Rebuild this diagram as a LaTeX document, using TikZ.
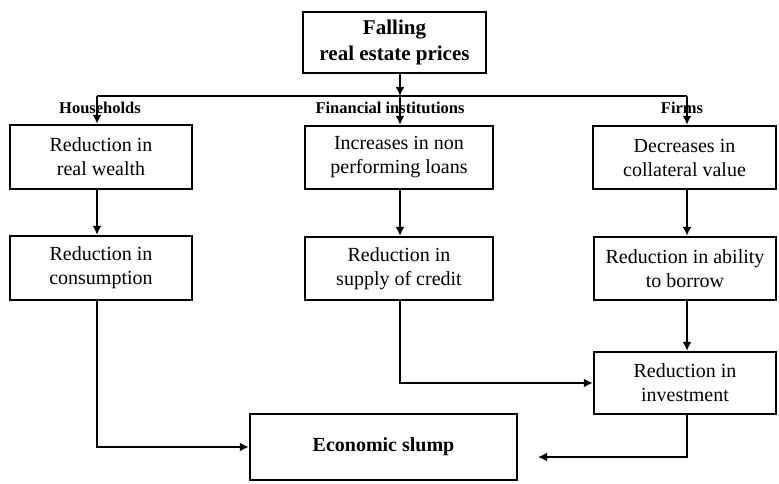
\documentclass[tikz,border=0pt]{standalone}
\usepackage{fontspec}
\setmainfont{Liberation Serif}
\usetikzlibrary{arrows.meta}
\begin{document}
\begin{tikzpicture}[x=1pt,y=-1pt,
  box/.style={draw,line width=2.4pt,align=center,inner sep=0pt,
    font=\fontsize{20}{24}\selectfont},
  arr/.style={line width=1.9pt,-{Latex[length=9pt,width=9pt]}},
  conn/.style={line width=1.9pt},
  lab/.style={font=\fontsize{16.5}{19}\selectfont\bfseries,inner sep=0pt}]
\useasboundingbox (0,0) rectangle (779,483);
% boxes
\node[box,minimum width=183pt,minimum height=61pt,
  font=\fontsize{21}{26}\selectfont\bfseries] (top) at (394.5,42.5) {Falling\\real estate prices};
\node[box,minimum width=182pt,minimum height=64pt] (hh1) at (101,157) {Reduction in\\real wealth};
\node[box,minimum width=182pt,minimum height=64pt] (hh2) at (101,268) {Reduction in\\consumption};
\node[box,minimum width=188pt,minimum height=63pt] (fi1) at (399,157.5) {Increases in non\\performing loans};
\node[box,minimum width=188pt,minimum height=63pt] (fi2) at (399,268.5) {Reduction in\\supply of credit};
\node[box,minimum width=183pt,minimum height=63pt] (f1) at (684.5,157.5) {Decreases in\\collateral value};
\node[box,minimum width=182pt,minimum height=63pt] (f2) at (685,268.5) {Reduction in ability\\to borrow};
\node[box,minimum width=182pt,minimum height=62pt] (inv) at (685,383) {Reduction in\\investment};
\node[box,minimum width=267pt,minimum height=66pt,
  font=\fontsize{20}{24}\selectfont\bfseries] (slump) at (383.5,447) {Economic slump};
% labels
\node[lab] (lh) at (100,108) {Households};
\node[lab] (lf) at (390,108) {Financial institutions};
\node[lab] (lr) at (682,108) {Firms};
% junction
\coordinate (jl) at (97,96);
\coordinate (jm) at (400,96);
\coordinate (jr) at (687,96);
\coordinate (se) at (538,457);
\draw[arr] (top.south -| jm) -- (jm);
\draw[conn] (jl) -- (jr);
\draw[arr] (jl) -- (jl |- hh1.north);
\draw[arr] (jm) -- (jm |- fi1.north);
\draw[arr] (jr) -- (jr |- f1.north);
\draw[arr] (hh1.south -| jl) -- (hh2.north -| jl);
\draw[arr] (fi1.south -| jm) -- (fi2.north -| jm);
\draw[arr] (f1.south -| jr) -- (f2.north -| jr);
\draw[arr] (f2.south -| jr) -- (inv.north -| jr);
\draw[arr] (fi2.south -| jm) |- (inv.west);
\draw[arr] (hh2.south -| jl) |- (slump.west);
\draw[arr] (inv.south -| jr) |- (se);
\end{tikzpicture}
\end{document}
